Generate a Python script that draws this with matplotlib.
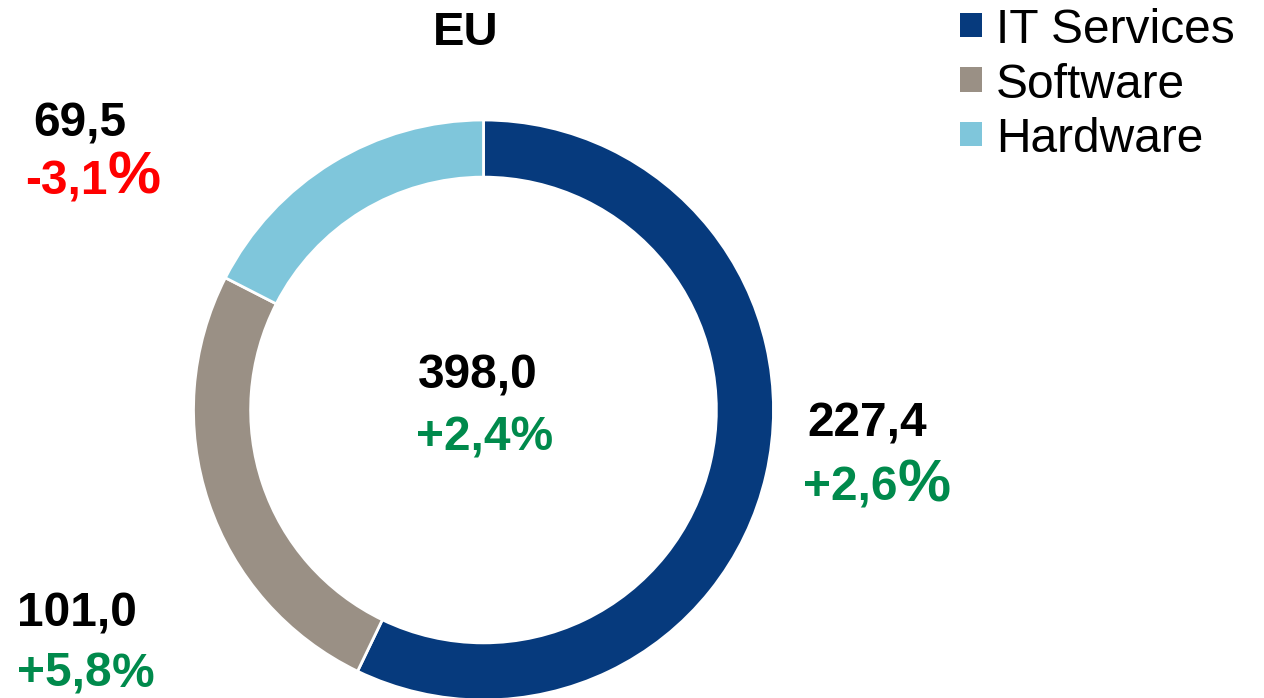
import matplotlib
matplotlib.use("Agg")
import matplotlib.pyplot as plt
from matplotlib.patches import Rectangle

plt.rcParams['font.family'] = ['Liberation Sans', 'DejaVu Sans']

# Data
categories = ["IT Services", "Software", "Hardware"]
values = [227.4, 101.0, 69.5]
value_labels = ["227,4", "101,0", "69,5"]
change_labels = ["+2,6", "+5,8", "-3,1"]
total_label = "398,0"
total_change = "+2,4%"
title = "EU"
colors = ["#063a7d", "#9a9085", "#7fc6db"]
GREEN = "#008a4c"
RED = "#ff0000"

W, H = 1264, 698
fig = plt.figure(figsize=(W / 100, H / 100), dpi=100)
fig.patch.set_facecolor("white")

def fx(x):
    return x / W

def fy(y):
    return 1 - y / H

FS = 34.5

# Pie axes: centre (483.5, 410), radius 290 px
cx, cy, R = 483.5, 410, 290
ax = fig.add_axes([fx(cx - R), fy(cy + R), 2 * R / W, 2 * R / H])
wedges, _ = ax.pie(values, colors=colors, startangle=90, counterclock=False,
                   radius=1.0,
                   wedgeprops=dict(width=0.197, edgecolor="white", linewidth=2))
ax.set_xlim(-1, 1)
ax.set_ylim(-1, 1)
ax.set_aspect("equal")
ax.axis("off")

# Title
fig.text(fx(466), fy(45), title, ha="center", va="baseline",
         fontsize=34, fontweight="bold", color="black")

# Centre labels
fig.text(fx(477.5), fy(389), total_label, ha="center", va="baseline",
         fontsize=FS, fontweight="bold", color="black")
fig.text(fx(484.5), fy(451), total_change, ha="center", va="baseline",
         fontsize=FS, fontweight="bold", color=GREEN)

# Outer labels: (value x-left, value baseline, change x-left, change baseline, pct big?)
label_pos = {
    "IT Services": (807, 437, 803, 501, True),
    "Software": (17, 626, 17, 687, False),
    "Hardware": (33, 137, 25, 194, True),
}

renderer = fig.canvas.get_renderer()
for cat, vl, ch in zip(categories, value_labels, change_labels):
    x1, b1, x2, b2, big = label_pos[cat]
    col = RED if ch.startswith("-") else GREEN
    fig.text(fx(x1), fy(b1), vl, ha="left", va="baseline",
             fontsize=FS, fontweight="bold", color="black")
    t = fig.text(fx(x2), fy(b2), ch, ha="left", va="baseline",
                 fontsize=FS, fontweight="bold", color=col)
    bb = t.get_window_extent(renderer=renderer)
    pct_size = 43 if big else FS
    fig.text(bb.x1 / W, fy(b2), "%", ha="left", va="baseline",
             fontsize=pct_size, fontweight="bold", color=col)

# Legend (manual)
for i, (cat, c) in enumerate(zip(categories, colors)):
    base = 43 + 54.5 * i
    top = base - 30
    fig.patches.append(Rectangle((fx(960), fy(top + 24)), 22 / W, 24 / H,
                                 transform=fig.transFigure, facecolor=c,
                                 edgecolor="none"))
    fig.text(fx(996), fy(base), cat, ha="left", va="baseline",
             fontsize=34.5, color="black")

fig.savefig("out.png", dpi=100, facecolor="white")
